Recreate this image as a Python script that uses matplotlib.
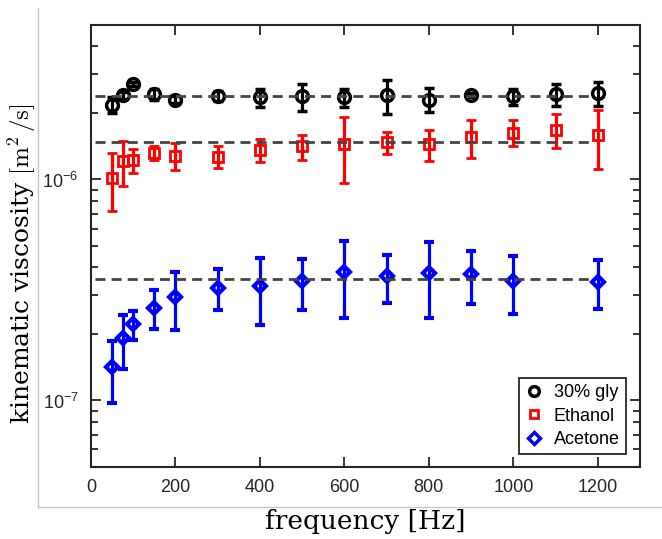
import matplotlib
matplotlib.use("Agg")
import matplotlib.pyplot as plt
from matplotlib.lines import Line2D
from matplotlib.ticker import LogLocator, NullFormatter, LogFormatterMathtext

plt.rcParams['font.family'] = ['Liberation Sans', 'DejaVu Sans']
plt.rcParams['mathtext.fontset'] = 'cm'

# frequency [Hz]
freq = [50, 75, 100, 150, 200, 300, 400, 500, 600, 700, 800, 900, 1000, 1100, 1200]
freq_ace = [50, 75, 100, 150, 200, 300, 400, 500, 600, 700, 800, 900, 1000, 1200]

# 30% glycerol (x1e-6 m^2/s)
gly = [2.17, 2.40, 2.70, 2.44, 2.30, 2.39, 2.35, 2.38, 2.35, 2.40, 2.30, 2.41, 2.38, 2.43, 2.45]
gly_err = [0.18, 0.08, 0.05, 0.14, 0.08, 0.12, 0.23, 0.33, 0.22, 0.42, 0.29, 0.04, 0.20, 0.27, 0.31]

# ethanol (x1e-6 m^2/s)
eth = [1.02, 1.21, 1.22, 1.32, 1.28, 1.27, 1.36, 1.41, 1.44, 1.47, 1.44, 1.55, 1.63, 1.68, 1.59]
eth_err = [0.30, 0.28, 0.15, 0.10, 0.18, 0.14, 0.16, 0.18, 0.48, 0.17, 0.23, 0.30, 0.22, 0.29, 0.48]

# acetone (x1e-7 m^2/s)
ace = [1.41, 1.91, 2.21, 2.63, 2.95, 3.24, 3.29, 3.46, 3.81, 3.65, 3.78, 3.74, 3.47, 3.45]
ace_err = [0.44, 0.52, 0.33, 0.52, 0.86, 0.68, 1.10, 0.90, 1.45, 0.89, 1.43, 1.01, 1.02, 0.85]

# reference values (dashed lines)
ref_vals = [2.38e-6, 1.47e-6, 3.56e-7]
labels = ['30% gly', 'Ethanol', 'Acetone']

fig = plt.figure(figsize=(6.62, 5.39), dpi=100)
ax = fig.add_axes([0.1375, 0.1336, 0.8293, 0.82])

# light grey frame lines (pasted figure border)
fig.add_artist(Line2D([38/662, 38/662], [1 - 8/539, 1 - 507/539], color='#c8c8c8', lw=1))
fig.add_artist(Line2D([38/662, 1.0], [1 - 507/539, 1 - 507/539], color='#c8c8c8', lw=1))

ekw = dict(linestyle='none', elinewidth=2.3, capsize=3.5, capthick=2.3)
ax.errorbar(freq, [v * 1e-6 for v in gly], yerr=[e * 1e-6 for e in gly_err],
            fmt='o', color='black', mfc='none', ms=8.5, mew=2.5, **ekw)
ax.errorbar(freq, [v * 1e-6 for v in eth], yerr=[e * 1e-6 for e in eth_err],
            fmt='s', color='red', mfc='none', ms=6.5, mew=2, **ekw)
ax.errorbar(freq_ace, [v * 1e-7 for v in ace], yerr=[e * 1e-7 for e in ace_err],
            fmt='D', color='blue', mfc='none', ms=6.5, mew=3, **ekw)

for r in ref_vals:
    ax.plot([10, 1185], [r, r], color='#444444', lw=2, linestyle=(0, (3.6, 2.2)), zorder=4)

ax.set_yscale('log')
ax.set_xlim(0, 1300)
ax.set_ylim(5e-8, 5e-6)
ax.set_xticks([0, 200, 400, 600, 800, 1000, 1200])
ax.yaxis.set_major_locator(LogLocator(base=10))
ax.yaxis.set_major_formatter(LogFormatterMathtext())
ax.yaxis.set_minor_locator(LogLocator(base=10, subs=range(2, 10)))
ax.yaxis.set_minor_formatter(NullFormatter())

ax.tick_params(which='both', direction='in', top=True, right=True, colors='#262626',
               labelsize=13, width=1.3)
ax.tick_params(which='major', length=7, pad=9)
ax.tick_params(which='minor', length=5)
for s in ax.spines.values():
    s.set_color('#262626')
    s.set_linewidth(1.5)

fig.text(365/662, 1 - 522/539, 'frequency [Hz]', ha='center', va='center',
         family='DejaVu Serif', fontsize=19)
fig.text(22/662, 1 - 264/539, r'kinematic viscosity $[\mathrm{m}^{2}\,/\mathrm{s}]$',
         ha='center', va='center', rotation=90, family='DejaVu Serif', fontsize=18)

handles = [
    Line2D([], [], marker='o', color='black', mfc='none', mew=2.5, ms=7, ls='none'),
    Line2D([], [], marker='s', color='red', mfc='none', mew=2, ms=6, ls='none'),
    Line2D([], [], marker='D', color='blue', mfc='none', mew=2.5, ms=6.5, ls='none'),
]
leg = ax.legend(handles, labels, loc='lower right', bbox_to_anchor=(0.975, 0.029),
                fontsize=13, fancybox=False, framealpha=1, edgecolor='#262626',
                handlelength=1.0, handletextpad=0.6, borderpad=0.35, labelspacing=0.35,
                borderaxespad=0)
leg.get_frame().set_linewidth(1.3)

fig.savefig('out.png', dpi=100)
